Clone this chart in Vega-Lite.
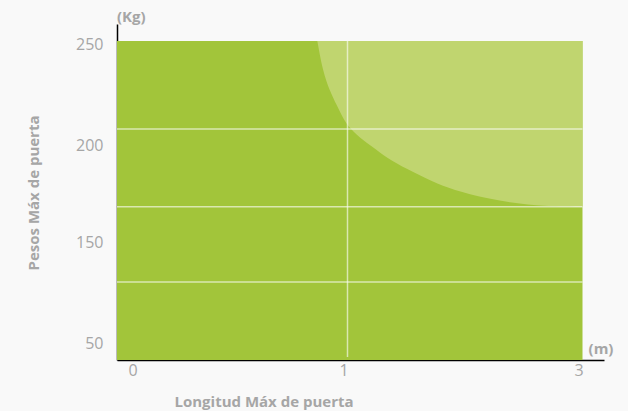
{
  "$schema": "https://vega.github.io/schema/vega-lite/v6.json",
  "width": 487,
  "height": 336,
  "autosize": {"type": "none"},
  "padding": {"left": 117, "top": 24, "right": 24, "bottom": 51},
  "background": "#f9f9f9",
  "config": {"view": {"stroke": null}, "font": "Open Sans"},
  "datasets": {
    "zona": [{"longitud": 0, "longitud_fin": 3, "peso": 33, "peso_fin": 251.5}],
    "curva": [
      {"longitud": 0.869, "peso": 251.5, "tope": 251.5},
      {"longitud": 0.893, "peso": 236.6, "tope": 251.5},
      {"longitud": 0.923, "peso": 226.7, "tope": 251.5},
      {"longitud": 0.953, "peso": 219.8, "tope": 251.5},
      {"longitud": 0.98, "peso": 213.4, "tope": 251.5},
      {"longitud": 1.003, "peso": 209.4, "tope": 251.5},
      {"longitud": 1.105, "peso": 203.5, "tope": 251.5},
      {"longitud": 1.215, "peso": 199.0, "tope": 251.5},
      {"longitud": 1.334, "peso": 193.3, "tope": 251.5},
      {"longitud": 1.505, "peso": 187.7, "tope": 251.5},
      {"longitud": 1.726, "peso": 181.1, "tope": 251.5},
      {"longitud": 1.896, "peso": 177.0, "tope": 251.5},
      {"longitud": 2.186, "peso": 172.6, "tope": 251.5},
      {"longitud": 2.466, "peso": 169.8, "tope": 251.5},
      {"longitud": 2.747, "peso": 168.5, "tope": 251.5},
      {"longitud": 3.0, "peso": 168.3, "tope": 251.5}
    ],
    "rejilla_h": [
      {"peso": 207.9, "longitud": 0, "hasta": 3},
      {"peso": 168.4, "longitud": 0, "hasta": 3},
      {"peso": 110.8, "longitud": 0, "hasta": 3}
    ],
    "rejilla_v": [{"longitud": 1, "peso": 36, "hasta": 251.5}],
    "unidades": [
      {"etiqueta": "(Kg)", "longitud": 0, "peso": 260, "eje": "y"},
      {"etiqueta": "(m)", "longitud": 3.181, "peso": 33, "eje": "x"}
    ]
  },
  "encoding": {
    "x": {
      "field": "longitud", "type": "quantitative",
      "scale": {"domain": [0, 1, 3, 3.181], "range": [0, 230.5, 465.5, 487], "zero": false, "nice": false},
      "axis": {
        "values": [0, 1, 3], "ticks": false, "grid": false,
        "domainColor": "#000000", "domainWidth": 1.5,
        "labelColor": "#a6a6a6", "labelFontSize": 16, "labelPadding": 2, "labelBaseline": "top",
        "labelOffset": {"condition": {"test": "datum.value === 0", "value": 11}, "value": -4},
        "title": "Longitud Máx de puerta", "titleColor": "#a6a6a6", "titleFontSize": 15, "titleFontWeight": "bold",
        "titleX": 146.5, "titleY": 46, "titleAlign": "center", "titleBaseline": "alphabetic"
      }
    },
    "y": {
      "field": "peso", "type": "quantitative", "stack": null,
      "scale": {"domain": [33, 50, 150, 200, 250, 260], "range": [336, 319, 218.7, 121, 20, 0], "zero": false, "nice": false},
      "axis": {
        "values": [50, 150, 200, 250], "ticks": false, "grid": false,
        "domainColor": "#000000", "domainWidth": 1.5,
        "labelColor": "#a6a6a6", "labelFontSize": 16, "labelPadding": 14,
        "title": "Pesos Máx de puerta", "titleColor": "#a6a6a6", "titleFontSize": 15, "titleFontWeight": "bold",
        "titleX": -79, "titleY": 168.5, "titleAngle": -90, "titleAlign": "center", "titleBaseline": "alphabetic"
      }
    }
  },
  "layer": [
    {
      "data": {"name": "zona"},
      "mark": {"type": "rect", "color": "#a2c53a"},
      "encoding": {"x2": {"field": "longitud_fin"}, "y2": {"field": "peso_fin"}}
    },
    {
      "data": {"name": "curva"},
      "mark": {"type": "area", "color": "#c0d56f", "interpolate": "basis"},
      "encoding": {"y2": {"field": "tope"}}
    },
    {
      "data": {"name": "rejilla_h"},
      "mark": {"type": "rule", "color": "#ffffff", "opacity": 0.6, "strokeWidth": 1.5},
      "encoding": {"x2": {"field": "hasta"}}
    },
    {
      "data": {"name": "rejilla_v"},
      "mark": {"type": "rule", "color": "#ffffff", "opacity": 0.6, "strokeWidth": 1.5},
      "encoding": {"y2": {"field": "hasta"}}
    },
    {
      "data": {"name": "unidades"},
      "transform": [{"filter": "datum.eje === 'y'"}],
      "mark": {"type": "text", "color": "#a6a6a6", "fontSize": 15, "fontWeight": "bold", "align": "left", "baseline": "middle", "dy": -7},
      "encoding": {"text": {"field": "etiqueta"}}
    },
    {
      "data": {"name": "unidades"},
      "transform": [{"filter": "datum.eje === 'x'"}],
      "mark": {"type": "text", "color": "#a6a6a6", "fontSize": 15, "fontWeight": "bold", "align": "center", "baseline": "middle", "dy": -11.5, "dx": -3},
      "encoding": {"text": {"field": "etiqueta"}}
    }
  ]
}
